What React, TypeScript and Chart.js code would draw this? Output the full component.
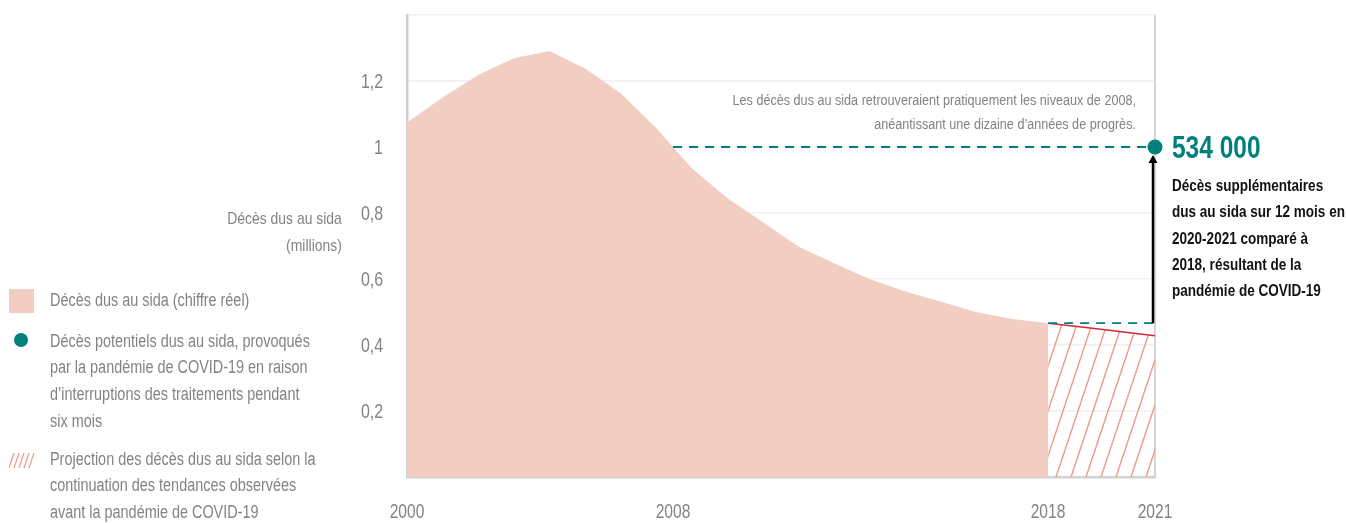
import React, { useEffect, useRef, useState } from "react";
import { Chart, registerables } from "chart.js";

Chart.register(...registerables);

// ---------- data ----------
const years = [2000, 2001, 2002, 2003, 2004, 2005, 2006, 2007, 2008, 2009, 2010, 2011, 2012, 2013, 2014, 2015, 2016, 2017, 2018];
const aidsDeaths = [1.074, 1.15, 1.218, 1.269, 1.291, 1.238, 1.163, 1.057, 0.935, 0.845, 0.771, 0.698, 0.647, 0.599, 0.562, 0.531, 0.499, 0.479, 0.466];
const projectionYears = [2018, 2019, 2020, 2021];
const projectionDeaths = [0.466, 0.454, 0.441, 0.428];
const potentialYear = 2021;
const potentialDeaths = 1.0;
const extraDeathsText = "534 000";
const xTickYears = [2000, 2008, 2018, 2021];
const xTickLabels = ["2000", "2008", "2018", "2021"];
const yTickValues = [0.2, 0.4, 0.6, 0.8, 1, 1.2];
const yTickLabels = ["0,2", "0,4", "0,6", "0,8", "1", "1,2"];
const yMax = 1.4;
const yStep = 0.2;

// ---------- styles ----------
const FONT = "'Liberation Sans', Arial, sans-serif";
const SQUEEZE = 0.82;
const GRAY = "#838383";
const TEAL = "#00807a";
const PINK = "#f1cec1";
const HATCH = "#ee9b86";
const RED = "#d7263a";

// year where the actual series falls to the potential level (the "2008 levels")
function crossingYear(): number {
  for (let i = 1; i < aidsDeaths.length; i++) {
    const a = aidsDeaths[i - 1];
    const b = aidsDeaths[i];
    if (a >= potentialDeaths && b < potentialDeaths) {
      return years[i - 1] + (a - potentialDeaths) / (a - b);
    }
  }
  return years[0];
}

function makeHatch(): CanvasPattern | string {
  const c = document.createElement("canvas");
  const w = 15;
  const h = 45;
  c.width = w;
  c.height = h;
  const g = c.getContext("2d");
  if (!g) return HATCH;
  g.strokeStyle = HATCH;
  g.lineWidth = 1.4;
  for (const dx of [-w, 0, w]) {
    g.beginPath();
    g.moveTo(dx, h);
    g.lineTo(dx + w, 0);
    g.stroke();
  }
  return g.createPattern(c, "repeat") || HATCH;
}

const arrowPlugin = {
  id: "arrowPlugin",
  afterDatasetsDraw(chart: any) {
    const { ctx, scales } = chart;
    const xs = scales.x;
    const ys = scales.y;
    const x = xs.getPixelForValue(potentialYear) - 2;
    const yBottom = ys.getPixelForValue(projectionDeaths[0]);
    const yDot = ys.getPixelForValue(potentialDeaths);
    const tip = yDot + 8;
    ctx.save();
    ctx.strokeStyle = "#000";
    ctx.fillStyle = "#000";
    ctx.lineWidth = 2.5;
    ctx.beginPath();
    ctx.moveTo(x, yBottom);
    ctx.lineTo(x, tip + 6);
    ctx.stroke();
    ctx.beginPath();
    ctx.moveTo(x, tip);
    ctx.lineTo(x - 4.5, tip + 8);
    ctx.lineTo(x + 4.5, tip + 8);
    ctx.closePath();
    ctx.fill();
    ctx.restore();
  },
};

type TickPos = { pos: number; label: string };

export default function App() {
  const ref = useRef<HTMLCanvasElement | null>(null);
  const [xt, setXt] = useState<TickPos[]>([]);
  const [yt, setYt] = useState<TickPos[]>([]);

  useEffect(() => {
    if (!ref.current) return;
    const cross = crossingYear();
    const xTickPositions = xTickYears.map((y) => (y === 2008 ? cross : y));
    const chart = new Chart(ref.current, {
      type: "line",
      data: {
        datasets: [
          {
            label: "dot",
            data: [{ x: potentialYear, y: potentialDeaths }],
            showLine: false,
            pointRadius: 7.5,
            pointBackgroundColor: TEAL,
            pointBorderWidth: 0,
            clip: false,
            order: 0,
          },
          {
            label: "level-potential",
            data: [
              { x: cross, y: potentialDeaths },
              { x: potentialYear, y: potentialDeaths },
            ],
            borderColor: TEAL,
            borderWidth: 1.8,
            borderDash: [9, 7],
            pointRadius: 0,
            fill: false,
            order: 1,
          },
          {
            label: "level-2018",
            data: [
              { x: projectionYears[0], y: projectionDeaths[0] },
              { x: potentialYear, y: projectionDeaths[0] },
            ],
            borderColor: TEAL,
            borderWidth: 1.8,
            borderDash: [9, 7],
            pointRadius: 0,
            fill: false,
            order: 1,
          },
          {
            label: "projection",
            data: projectionYears.map((y, i) => ({ x: y, y: projectionDeaths[i] })),
            borderColor: RED,
            borderWidth: 1.6,
            backgroundColor: makeHatch() as any,
            fill: "origin",
            pointRadius: 0,
            order: 2,
          },
          {
            label: "actual",
            data: years.map((y, i) => ({ x: y, y: aidsDeaths[i] })),
            borderWidth: 0,
            borderColor: PINK,
            backgroundColor: PINK,
            fill: "origin",
            pointRadius: 0,
            order: 3,
          },
        ],
      },
      options: {
        animation: false,
        responsive: false,
        layout: { padding: { left: 0, right: 191, top: 15, bottom: 0 } },
        plugins: { legend: { display: false }, tooltip: { enabled: false } },
        elements: { line: { tension: 0 } },
        scales: {
          x: {
            type: "linear",
            min: 2000,
            max: 2021,
            afterBuildTicks: (scale: any) => {
              scale.ticks = xTickPositions.map((v) => ({ value: v }));
            },
            afterFit: (scale: any) => {
              scale.height = 46;
              scale.paddingLeft = 0;
              scale.paddingRight = 0;
            },
            ticks: { display: false, autoSkip: false },
            grid: {
              drawTicks: false,
              lineWidth: 2,
              color: (ctx: any) => (ctx.tick && ctx.tick.value === potentialYear ? "#d6d6d6" : "rgba(0,0,0,0)"),
            },
            border: { display: true, color: "#d2d2d2", width: 2.5 },
          },
          y: {
            min: 0,
            max: yMax,
            z: 1,
            afterFit: (scale: any) => {
              scale.width = 407;
              scale.paddingTop = 0;
              scale.paddingBottom = 0;
            },
            ticks: { display: false, stepSize: yStep },
            grid: {
              drawTicks: false,
              lineWidth: 1.5,
              color: "rgba(228,228,228,0.55)",
            },
            border: { display: true, color: "#cfcfcf", width: 2.5 },
          },
        },
      },
      plugins: [arrowPlugin],
    } as any);

    const xs: any = chart.scales.x;
    const ys: any = chart.scales.y;
    setXt(xTickPositions.map((v, i) => ({ pos: xs.getPixelForValue(v), label: xTickLabels[i] })));
    setYt(yTickValues.map((v, i) => ({ pos: ys.getPixelForValue(v), label: yTickLabels[i] })));

    return () => chart.destroy();
  }, []);

  const base: React.CSSProperties = { position: "absolute", fontFamily: FONT, whiteSpace: "nowrap" };
  const grayL: React.CSSProperties = { ...base, color: GRAY, transform: `scaleX(${SQUEEZE})`, transformOrigin: "left top" };
  const grayR: React.CSSProperties = { ...base, color: GRAY, textAlign: "right", transform: `scaleX(${SQUEEZE})`, transformOrigin: "right top" };

  return (
    <div style={{ position: "fixed", left: 0, top: 0, width: 1346, height: 523, background: "#fff", fontFamily: FONT, overflow: "hidden" }}>
      <canvas ref={ref} width={1346} height={523} style={{ position: "absolute", left: 0, top: 0 }} />

      {/* x tick labels */}
      {xt.map((t) => (
        <div key={t.label} style={{ ...base, color: GRAY, left: t.pos - 40, width: 80, textAlign: "center", top: 499, fontSize: 19.5, lineHeight: "24px", transform: "scaleX(0.8)", transformOrigin: "center top" }}>
          {t.label}
        </div>
      ))}
      {/* y tick labels */}
      {yt.map((t) => (
        <div key={t.label} style={{ ...base, color: GRAY, right: 1346 - 383, top: t.pos - 12, fontSize: 19.5, lineHeight: "24px", textAlign: "right", transform: "scaleX(0.82)", transformOrigin: "right top" }}>
          {t.label}
        </div>
      ))}

      {/* y axis title */}
      <div style={{ ...grayR, right: 1346 - 342, top: 204.5, fontSize: 17, lineHeight: "27px" }}>
        Décès dus au sida
        <br />
        (millions)
      </div>

      {/* legend */}
      <div style={{ position: "absolute", left: 9, top: 289, width: 25, height: 24, background: PINK }} />
      <div style={{ ...grayL, left: 50, top: 286.5, fontSize: 17.6, lineHeight: "27px" }}>Décès dus au sida (chiffre réel)</div>

      <div style={{ position: "absolute", left: 14, top: 333, width: 14, height: 14, borderRadius: 7, background: TEAL }} />
      <div style={{ ...grayL, left: 50, top: 327.5, fontSize: 17.6, lineHeight: "26.7px" }}>
        Décès potentiels dus au sida, provoqués
        <br />
        par la pandémie de COVID-19 en raison
        <br />
        d’interruptions des traitements pendant
        <br />
        six mois
      </div>

      <svg style={{ position: "absolute", left: 9, top: 452 }} width={27} height={17}>
        {[0, 5, 10, 15, 20].map((d) => (
          <line key={d} x1={d} y1={16} x2={d + 5} y2={1} stroke={HATCH} strokeWidth={1.2} />
        ))}
      </svg>
      <div style={{ ...grayL, left: 50, top: 445.5, fontSize: 17.6, lineHeight: "26.7px" }}>
        Projection des décès dus au sida selon la
        <br />
        continuation des tendances observées
        <br />
        avant la pandémie de COVID-19
      </div>

      {/* annotation near 2008 level */}
      <div style={{ ...grayR, right: 1346 - 1136, top: 88, fontSize: 15.4, lineHeight: "24px" }}>
        Les décès dus au sida retrouveraient pratiquement les niveaux de 2008,
        <br />
        anéantissant une dizaine d’années de progrès.
      </div>

      {/* right callout */}
      <div style={{ ...base, left: 1172, top: 131, fontWeight: 700, fontSize: 31, lineHeight: "34px", color: TEAL, transform: "scaleX(0.79)", transformOrigin: "left top" }}>
        {extraDeathsText}
      </div>
      <div style={{ ...base, left: 1172, top: 172, fontWeight: 700, fontSize: 16.5, lineHeight: "26.3px", color: "#111", transform: `scaleX(${SQUEEZE})`, transformOrigin: "left top" }}>
        Décès supplémentaires
        <br />
        dus au sida sur 12 mois en
        <br />
        2020-2021 comparé à
        <br />
        2018, résultant de la
        <br />
        pandémie de COVID-19
      </div>
    </div>
  );
}
